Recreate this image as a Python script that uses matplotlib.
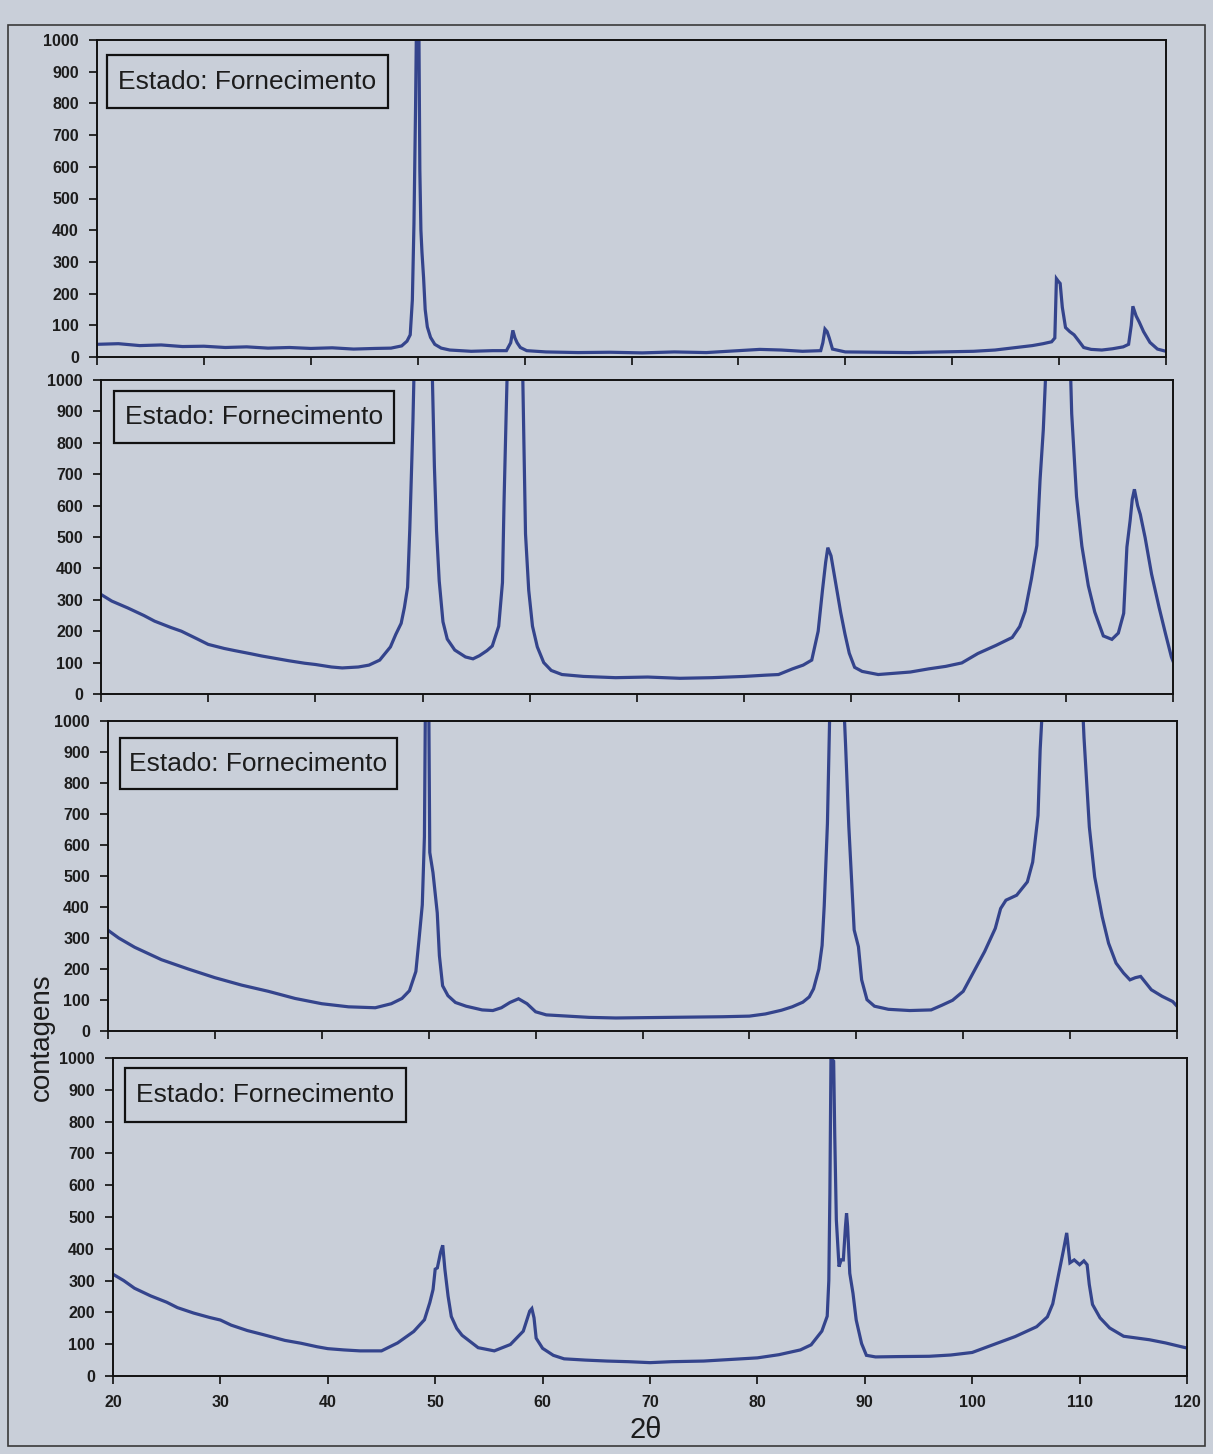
import matplotlib
matplotlib.use("Agg")
import matplotlib.pyplot as plt
from matplotlib.patches import Rectangle

# ---------------- data (2theta, counts) ----------------
two_theta_ticks = [20, 30, 40, 50, 60, 70, 80, 90, 100, 110, 120]
count_ticks = [0, 100, 200, 300, 400, 500, 600, 700, 800, 900, 1000]
box_label = "Estado: Fornecimento"

panel1 = [(20, 40), (22, 42), (24, 36), (26, 38), (28, 33), (30, 34), (32, 30), (34, 32),
          (36, 28), (38, 30), (40, 27), (42, 29), (44, 25), (46, 27), (47.5, 28), (48.5, 35),
          (49.0, 50), (49.3, 70), (49.5, 180), (49.65, 420), (49.8, 790), (49.9, 1100),
          (50.1, 1100), (50.2, 590), (50.3, 400), (50.4, 330), (50.55, 250), (50.7, 150),
          (50.9, 95), (51.2, 62), (51.6, 40), (52.2, 28), (53, 22), (55, 18), (57, 20),
          (58.3, 20), (58.7, 45), (58.9, 84), (59.1, 60), (59.3, 45), (59.6, 30), (60.2, 20),
          (62, 16), (65, 14), (68, 15), (71, 13), (74, 16), (77, 14), (80, 20), (82, 24),
          (84, 22), (86, 18), (87.7, 20), (87.9, 45), (88.1, 88), (88.3, 80), (88.5, 60),
          (88.8, 25), (90, 16), (93, 15), (96, 14), (99, 16), (102, 18), (104, 22), (106, 30),
          (107.5, 36), (108.5, 42), (109.3, 48), (109.6, 60), (109.75, 247), (109.9, 240),
          (110.1, 232), (110.3, 157), (110.6, 93), (111.0, 80), (111.4, 70), (111.9, 48),
          (112.3, 30), (113, 24), (114, 22), (115, 26), (116, 32), (116.5, 40), (116.75, 100),
          (116.9, 160), (117.2, 130), (117.5, 110), (117.9, 80), (118.5, 46), (119.2, 25),
          (120, 18)]

panel2 = [(20, 317), (21, 296), (22.5, 274), (24, 250), (25, 232), (26.5, 212), (27.5, 200),
          (29, 175), (30, 158), (31.5, 145), (32.5, 138), (34, 128), (35, 121), (36.5, 112),
          (37.5, 106), (39, 98), (40, 94), (41.5, 86), (42.5, 83), (44, 86), (45, 92),
          (46, 108), (47, 150), (47.5, 190), (48, 225), (48.3, 275), (48.6, 340), (48.8, 520),
          (49.0, 750), (49.1, 870), (49.25, 1100), (50.1, 1600), (50.85, 1100), (51.1, 725),
          (51.3, 520), (51.55, 360), (51.9, 230), (52.3, 175), (53, 140), (54, 118),
          (54.7, 112), (55.3, 122), (56, 138), (56.5, 153), (57.1, 216), (57.45, 355),
          (57.6, 616), (57.8, 900), (57.95, 1100), (58.6, 1600), (59.3, 1100), (59.45, 800),
          (59.6, 510), (59.9, 330), (60.25, 216), (60.7, 150), (61.3, 100), (62, 75), (63, 62),
          (65, 56), (68, 52), (71, 54), (74, 50), (77, 52), (80, 56), (82, 60), (83.2, 62),
          (84.5, 80), (85.5, 92), (86.3, 108), (86.9, 200), (87.3, 330), (87.6, 420),
          (87.8, 466), (88.1, 440), (88.5, 360), (89.0, 260), (89.4, 191), (89.8, 130),
          (90.3, 85), (91, 72), (92.5, 62), (94, 66), (95.5, 70), (97.2, 80), (98.8, 88),
          (100.3, 99), (101.8, 129), (103.5, 155), (105, 180), (105.7, 215), (106.2, 263),
          (106.8, 368), (107.3, 473), (107.6, 683), (107.9, 841), (108.1, 1000), (108.4, 1200),
          (109.3, 1600), (110.3, 1200), (110.55, 893), (111.0, 629), (111.5, 471), (112.1, 345),
          (112.7, 261), (113.5, 185), (114.3, 174), (114.9, 194), (115.4, 257), (115.7, 468),
          (116.0, 552), (116.2, 620), (116.4, 652), (116.7, 600), (116.95, 572), (117.4, 498),
          (118.0, 382), (118.7, 276), (119.3, 192), (119.85, 118), (120, 105)]

panel3 = [(20, 325), (21, 300), (22.5, 270), (25, 230), (27.5, 200), (30, 172), (32.5, 148),
          (35, 128), (37.5, 105), (40, 88), (42.5, 78), (45, 75), (46.5, 88), (47.5, 105),
          (48.2, 130), (48.8, 192), (49.1, 297), (49.4, 407), (49.6, 627), (49.7, 1100),
          (49.85, 1400), (50.0, 1100), (50.1, 576), (50.4, 511), (50.8, 381), (51.0, 243),
          (51.3, 146), (51.8, 114), (52.5, 92), (53.5, 80), (55, 68), (56, 66), (56.8, 75),
          (57.6, 92), (58.4, 104), (59.2, 88), (60, 62), (61, 52), (63, 48), (65, 44),
          (67.5, 42), (70, 43), (72.5, 44), (75, 45), (77.5, 46), (80, 48), (81.5, 55),
          (83, 67), (84, 78), (85, 93), (85.6, 110), (86, 136), (86.5, 200), (86.8, 276),
          (87.0, 404), (87.3, 670), (87.5, 1000), (88.2, 1500), (88.9, 1000), (89.0, 920),
          (89.3, 660), (89.8, 326), (90.2, 272), (90.5, 165), (91.0, 101), (91.7, 80),
          (93, 70), (95, 66), (97, 68), (98, 83), (99, 99), (100, 128), (101, 192), (102, 256),
          (103, 331), (103.5, 395), (104, 422), (105, 438), (106, 481), (106.5, 545),
          (107, 695), (107.2, 908), (107.5, 1100), (109.3, 1600), (111.1, 1100), (111.3, 947),
          (111.8, 658), (112.3, 497), (113.0, 369), (113.6, 283), (114.3, 219), (115.0, 187),
          (115.6, 165), (116.1, 172), (116.6, 176), (117.6, 133), (118.6, 112), (119.6, 95),
          (120, 80)]

panel4 = [(20, 320), (21, 300), (22, 276), (23.5, 252), (25, 232), (26, 215), (27.5, 198),
          (29, 184), (30, 176), (31, 160), (32.5, 143), (34, 130), (35, 121), (36, 112),
          (37.5, 103), (39, 92), (40, 86), (41.5, 82), (43, 79), (45, 79), (46.5, 104),
          (48, 140), (49, 177), (49.5, 231), (49.8, 272), (50.0, 336), (50.2, 340),
          (50.5, 389), (50.7, 411), (50.9, 336), (51.2, 251), (51.5, 187), (52, 150),
          (52.5, 128), (54, 89), (55.5, 79), (57, 99), (58.2, 141), (58.8, 204), (59.0, 212),
          (59.2, 183), (59.4, 119), (60, 87), (61, 65), (62, 54), (64, 50), (66, 47), (68, 45),
          (70, 42), (72, 45), (75, 47), (77.5, 52), (80, 57), (82, 67), (84, 82), (85, 98),
          (86, 141), (86.5, 188), (86.65, 300), (86.75, 575), (86.85, 1000), (87.1, 990),
          (87.2, 760), (87.35, 491), (87.6, 344), (87.8, 365), (88.0, 365), (88.2, 470),
          (88.3, 512), (88.4, 470), (88.6, 323), (88.9, 260), (89.2, 176), (89.7, 102),
          (90.15, 65), (91, 60), (93, 61), (96, 62), (98, 66), (100, 74), (102, 99), (104, 124),
          (106, 155), (107, 186), (107.5, 227), (108, 312), (108.5, 396), (108.8, 450),
          (109.1, 356), (109.5, 365), (110.0, 350), (110.4, 362), (110.7, 350), (110.9, 288),
          (111.2, 225), (111.9, 183), (112.8, 151), (114.1, 125), (116.5, 114), (118, 104),
          (119.6, 91), (120, 88)]

# ---------------- styling / layout ----------------
BG = "#c9cfd9"
LINE = "#34448c"
INK = "#1c1c1c"
FONT = "Liberation Sans"

W, H = 1213, 1454
fig = plt.figure(figsize=(W / 100, H / 100), dpi=100)
fig.patch.set_facecolor(BG)

# pixel boxes of the four plot areas: left, top, right, bottom
frames = [(97, 40, 1166, 357), (101, 380, 1173, 694), (108, 721, 1177, 1031),
          (113, 1058, 1187, 1376)]
# label box in axes fraction: x0, x1, y0, y1
boxes = [(0.009, 0.272, 0.785, 0.953), (0.012, 0.273, 0.80, 0.965),
         (0.011, 0.270, 0.78, 0.945), (0.011, 0.2725, 0.80, 0.968)]
series = [panel1, panel2, panel3, panel4]

# outer frame
fig.add_artist(Rectangle((8 / W, 1 - 1446 / H), (1205 - 8) / W, (1446 - 25) / H,
                         transform=fig.transFigure, fill=False, edgecolor="#3a3a3a",
                         linewidth=1.2))

for i, (fr, bx, data) in enumerate(zip(frames, boxes, series)):
    l, t, r, b = fr
    ax = fig.add_axes([l / W, 1 - b / H, (r - l) / W, (b - t) / H])
    ax.set_facecolor("none")
    xs = [p[0] for p in data]
    ys = [p[1] for p in data]
    ax.plot(xs, ys, color=LINE, lw=2.3, solid_joinstyle="miter")
    ax.set_xlim(20, 120)
    ax.set_ylim(0, 1000)
    ax.set_xticks(two_theta_ticks)
    ax.set_yticks(count_ticks)
    ax.set_yticklabels([str(v) for v in count_ticks], fontfamily=FONT, fontweight="bold",
                       fontsize=11.5, color=INK)
    if i == 3:
        ax.set_xticklabels([str(v) for v in two_theta_ticks], fontfamily=FONT,
                           fontweight="bold", fontsize=11.5, color=INK)
    else:
        ax.set_xticklabels([])
    ax.tick_params(axis="y", direction="out", length=6, width=1.3, pad=7, colors=INK)
    ax.tick_params(axis="x", direction="out", length=6, width=1.3, pad=8, colors=INK)
    for s in ax.spines.values():
        s.set_linewidth(1.4)
        s.set_color("#111111")
    x0, x1, y0, y1 = bx
    ax.add_patch(Rectangle((x0, y0), x1 - x0, y1 - y0, transform=ax.transAxes,
                           fill=False, edgecolor="#111111", linewidth=1.6, zorder=5))
    ax.text((x0 + x1) / 2, (y0 + y1) / 2, box_label, transform=ax.transAxes,
            ha="center", va="center", fontfamily=FONT, fontsize=19, color=INK, zorder=6)

fig.text(42 / W, 1 - 1037 / H, "contagens", rotation=90, ha="center", va="center",
         fontfamily=FONT, fontsize=20, color=INK)
fig.text(646 / W, 1 - 1430 / H, "2θ", ha="center", va="center",
         fontfamily=FONT, fontsize=21, color=INK)

fig.savefig("out.png", dpi=100, facecolor=BG)
